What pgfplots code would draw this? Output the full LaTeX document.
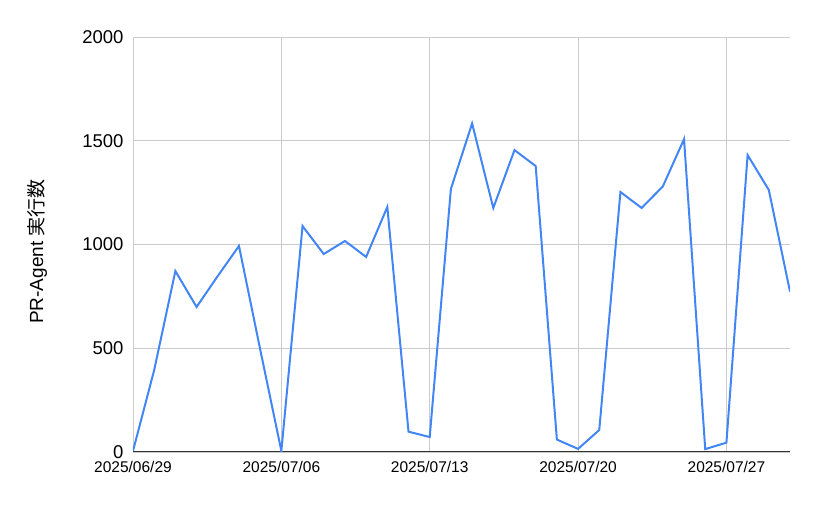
\documentclass[border=0pt]{standalone}
\usepackage{fontspec}
\setmainfont{Liberation Sans}
\newfontfamily\cjk{Noto Sans CJK JP}
\usepackage{pgfplots}
\pgfplotsset{compat=1.18}
\definecolor{gline}{HTML}{4285F4}
\definecolor{gridgray}{HTML}{CCCCCC}

\begin{document}
\begin{tikzpicture}
\begin{axis}[
    scale only axis, width=657pt, height=415pt,
    xmin=0, xmax=31, ymin=0, ymax=2000,
    xtick={0,7,14,21,28},
    xticklabels={2025/06/29,2025/07/06,2025/07/13,2025/07/20,2025/07/27},
    ytick={0,500,1000,1500,2000},
    axis x line=bottom, axis y line=left,
    x axis line style={-, draw=black!80, line width=1pt},
    y axis line style={draw=none},
    major tick length=0pt,
    grid=major, grid style={gridgray, line width=0.8pt},
    /pgf/number format/assume math mode=true,
    /pgf/number format/1000 sep={},
    yticklabel style={font=\fontsize{18.5}{20}\selectfont, xshift=-6pt},
    xticklabel style={font=\fontsize{15.5}{17}\selectfont, yshift=-6pt},
    ylabel={PR-Agent {\cjk 実行数}},
    ylabel style={font=\fontsize{19}{21}\selectfont, at={(axis description cs:-0.146,0.483)}, anchor=center},
]
\addplot[gline, line width=2pt, mark=none] coordinates {
(0,5) (1,395) (2,872) (3,699) (4,848) (5,993) (6,495) (7,5)
(8,1089) (9,954) (10,1017) (11,940) (12,1181) (13,98) (14,72)
(15,1268) (16,1583) (17,1176) (18,1455) (19,1378) (20,60) (21,15)
(22,106) (23,1253) (24,1176) (25,1280) (26,1508) (27,14) (28,45)
(29,1431) (30,1263) (31,773)
};
\end{axis}
\path (current axis.south west) ++(-133pt,-53pt) rectangle ++(816pt,505pt);
\end{tikzpicture}
\end{document}
